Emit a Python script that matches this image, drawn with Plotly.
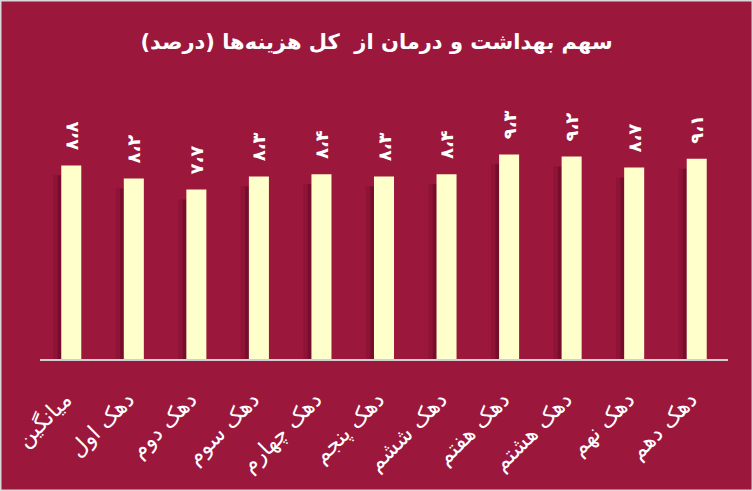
import plotly.graph_objects as go

categories = ["میانگین", "دهک اول", "دهک دوم", "دهک سوم", "دهک چهارم", "دهک پنجم",
              "دهک ششم", "دهک هفتم", "دهک هشتم", "دهک نهم", "دهک دهم"]
values = [8.8, 8.2, 7.7, 8.3, 8.4, 8.3, 8.4, 9.3, 9.2, 8.7, 9.1]
value_labels = ["۸،۸", "۸،۲", "۷،۷", "۸،۳", "۸،۴", "۸،۳", "۸،۴", "۹،۳", "۹،۲", "۸،۷", "۹،۱"]
title_text = "سهم بهداشت و درمان از  کل هزینه‌ها (درصد)"

BG = "#9C173C"
BAR = "#FFFFCC"
LABEL_GAP = 0.55  # gap between bar top and its value label, in axis units

fig = go.Figure()

# soft shadows to the left of bars
fig.add_trace(go.Bar(
    x=categories, y=[v - 0.45 for v in values], width=0.13, offset=-0.29,
    marker=dict(color="rgba(60,0,20,0.14)", line=dict(width=0)),
    hoverinfo="skip", showlegend=False))
fig.add_trace(go.Bar(
    x=categories, y=[v - 0.45 for v in values], width=0.06, offset=-0.22,
    marker=dict(color="rgba(60,0,20,0.28)", line=dict(width=0)),
    hoverinfo="skip", showlegend=False))

fig.add_trace(go.Bar(
    x=categories, y=values, width=0.32, offset=-0.16,
    marker=dict(color=BAR, line=dict(width=0)),
    hoverinfo="x+y", showlegend=False))

# transparent spacer bars carrying the value labels
fig.add_trace(go.Bar(
    x=categories, base=values, y=[LABEL_GAP] * len(values), width=0.32, offset=-0.16,
    marker=dict(color="rgba(0,0,0,0)", line=dict(width=0)),
    text=value_labels, textposition="outside", textangle=-90, constraintext="none",
    textfont=dict(color="white", size=18, family="DejaVu Sans", weight="bold"),
    cliponaxis=False, hoverinfo="skip", showlegend=False))

L, R, T, B = 40, 25, 80, 132
W, H = 753, 491
pw = W - L - R
ph = H - T - B

fig.update_layout(
    width=W, height=H,
    barmode="overlay",
    paper_bgcolor=BG, plot_bgcolor=BG,
    margin=dict(l=L, r=R, t=T, b=B, autoexpand=False),
    title=dict(text="<b>" + title_text + "</b>", x=0.5, xanchor="center",
               y=1 - 42 / H, yanchor="middle",
               font=dict(color="white", size=21, family="DejaVu Sans")),
    xaxis=dict(type="category", tickangle=-45, showgrid=False, zeroline=False,
               showline=True, linecolor="#D0D0D0", linewidth=2, automargin=False,
               ticks="", ticklabelstandoff=17, ticklabelshift=-6,
               tickfont=dict(color="white", size=22, family="DejaVu Sans"),
               range=[-0.5, len(categories) - 0.5]),
    yaxis=dict(range=[0, ph / 22.0], visible=False, showgrid=False, zeroline=False,
               automargin=False),
    shapes=[dict(type="rect", xref="paper", yref="paper",
                 x0=-L / pw + 0.5 / pw, x1=1 + R / pw - 0.5 / pw,
                 y0=-B / ph + 0.5 / ph, y1=1 + T / ph - 0.5 / ph,
                 line=dict(color="#D8D8D8", width=2), layer="above")],
)

fig.write_html("out.html", config={"displayModeBar": False},
               post_script="document.body.style.margin='0';document.body.style.overflow='hidden';")
